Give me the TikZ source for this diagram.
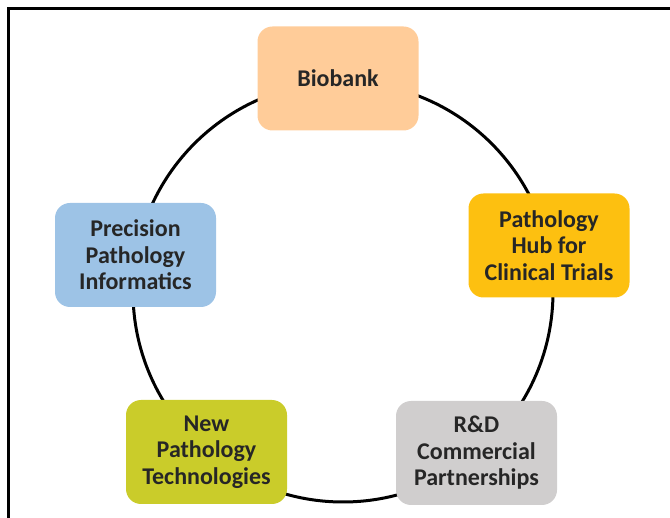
\documentclass[tikz,border=0pt]{standalone}
\usepackage{fontspec}
\setmainfont{Carlito}
\definecolor{txt}{HTML}{262626}
\definecolor{cBio}{HTML}{FFCC99}
\definecolor{cHub}{HTML}{FDC010}
\definecolor{cPrec}{HTML}{9DC3E6}
\definecolor{cNew}{HTML}{CACC2A}
\definecolor{cRD}{HTML}{D0CECE}
\tikzset{
  hubbox/.style={rounded corners=15pt, minimum width=161pt, minimum height=104pt,
    align=center, inner sep=0pt, text=txt,
    font=\fontsize{24}{26.5}\selectfont\bfseries},
  ring/.style={line width=3pt, black},
  frameline/.style={line width=3pt, black}
}
\begin{document}
\begin{tikzpicture}[x=1pt,y=-1pt]
\useasboundingbox (0,0) rectangle (670,518);
\draw[frameline] (8,518) -- (8,9) -- (670,9);
\coordinate (ctr) at (343,292);
\draw[ring] (ctr) circle[radius=210pt];
\node[hubbox, fill=cBio] (bio) at (338,78.5) {Biobank};
\node[hubbox, fill=cHub] (hub) at (549,245.5) {Pathology\\Hub for\\Clinical Trials};
\node[hubbox, fill=cRD] (rd) at (476.5,453) {R\&D\\Commercial\\Partnerships};
\node[hubbox, fill=cNew] (new) at (206.5,452) {New\\Pathology\\Technologies};
\node[hubbox, fill=cPrec] (prec) at (135.5,255) {Precision\\Pathology\\Informatics};
\end{tikzpicture}
\end{document}
